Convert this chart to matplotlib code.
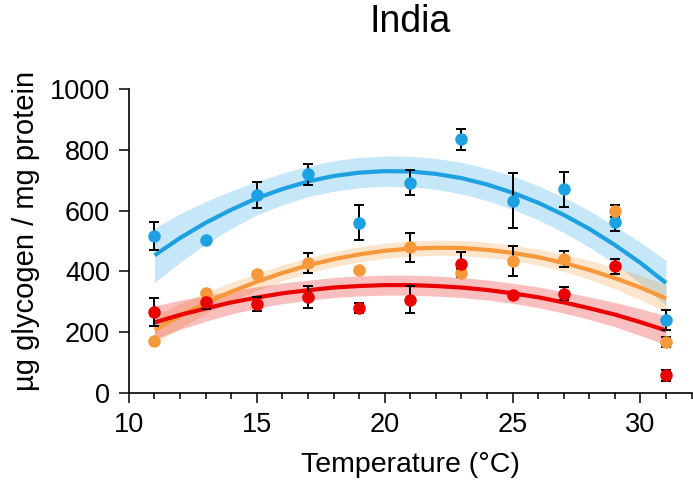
import matplotlib
matplotlib.use("Agg")
import matplotlib.pyplot as plt
import numpy as np
from matplotlib.ticker import MultipleLocator

plt.rcParams['font.family'] = ['Liberation Sans', 'DejaVu Sans']

temps = [11, 13, 15, 17, 19, 21, 23, 25, 27, 29, 31]

# measured means and error bars
blue_mean = [517, 505, 651, 720, 560, 692, 835, 633, 670, 563, 240]
blue_err = [45, 0, 43, 35, 57, 41, 34, 91, 57, 30, 33]
orange_mean = [172, 330, 393, 429, 406, 479, 395, 434, 440, 599, 168]
orange_err = [0, 0, 0, 33, 0, 48, 12, 50, 26, 20, 15]
red_mean = [268, 300, 292, 316, 280, 307, 424, 324, 327, 417, 58]
red_err = [46, 22, 23, 35, 16, 44, 40, 0, 22, 25, 17]

# fitted curves (read every degree) with confidence band half-widths
fit_temps = list(range(11, 32))
blue_fit = [453, 510, 560, 603, 641, 671, 696, 714, 725, 730, 729,
            721, 707, 686, 659, 626, 586, 540, 487, 428, 362]
blue_band = [90, 80, 70, 62, 55, 52, 50, 50, 50, 50, 50,
             51, 52, 53, 55, 56, 58, 60, 62, 68, 74]
orange_fit = [208, 254, 296, 333, 366, 395, 420, 440, 456, 468, 475,
              478, 477, 471, 461, 447, 428, 405, 378, 347, 311]
orange_band = [45, 40, 35, 31, 28, 26, 25, 25, 25, 25, 25,
               25, 25, 25, 25, 26, 28, 31, 35, 40, 45]
red_fit = [232, 257, 278, 298, 314, 328, 338, 347, 352, 355, 355,
           352, 347, 339, 328, 315, 298, 279, 258, 233, 206]
red_band = [55, 48, 42, 38, 35, 34, 33, 33, 33, 33, 33,
            33, 33, 33, 33, 34, 35, 37, 40, 44, 48]

c_blue = '#1da1e3'
c_orange = '#f7983a'
c_red = '#ea0000'

fig = plt.figure(figsize=(6.93, 4.84), dpi=100)
ax = fig.add_axes([0.186, 0.188, 0.812, 0.628])

series = [
    (blue_mean, blue_err, blue_fit, blue_band, c_blue),
    (orange_mean, orange_err, orange_fit, orange_band, c_orange),
    (red_mean, red_err, red_fit, red_band, c_red),
]

t = np.array(temps)
ft = np.array(fit_temps)
for mean, err, fit, band, col in series:
    fit = np.array(fit)
    band = np.array(band)
    ax.fill_between(ft, fit - band, fit + band, color=col, alpha=0.25, lw=0, zorder=1)
    ax.plot(ft, fit, color=col, lw=3, zorder=2, solid_capstyle='butt')

for mean, err, fit, band, col in series:
    ax.errorbar(t, mean, yerr=err, fmt='none', ecolor='black', elinewidth=1.4,
                capsize=3.5, capthick=1.4, zorder=3)
    ax.plot(t, mean, 'o', color=col, markersize=8, zorder=4)

ax.set_xlim(10, 32)
ax.set_ylim(0, 1000)
ax.xaxis.set_major_locator(MultipleLocator(5))
ax.xaxis.set_minor_locator(MultipleLocator(1))
ax.yaxis.set_major_locator(MultipleLocator(200))

for s in ['top', 'right']:
    ax.spines[s].set_visible(False)
for s in ['left', 'bottom']:
    ax.spines[s].set_linewidth(1.2)

ax.tick_params(axis='both', which='major', length=7, width=1.1, labelsize=19.5, pad=6.5)
ax.tick_params(axis='x', which='minor', length=4.5, width=1.1)

ax.set_xlabel('Temperature (°C)', fontsize=20.5, labelpad=10)
ax.set_ylabel('µg glycogen / mg protein', fontsize=21, labelpad=7)
ax.yaxis.label.set_y(0.533)
ax.set_title('India', fontsize=27, pad=41)

fig.savefig('out.png', dpi=100)
